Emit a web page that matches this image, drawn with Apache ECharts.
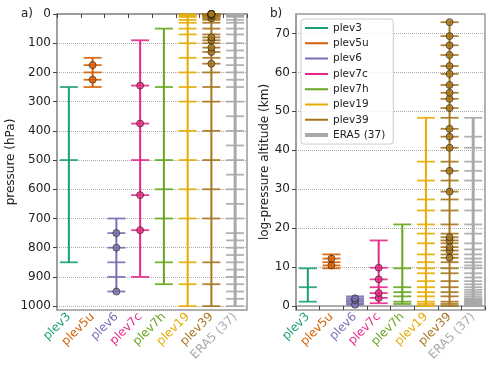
<!DOCTYPE html>
<html lang="en">
<head>
  <meta charset="UTF-8" />
  <title>pressure level sets</title>
  <script src="https://cdn.jsdelivr.net/npm/echarts@6/dist/echarts.min.js"></script>
  <style>
    html, body { margin: 0; padding: 0; background: #fff; }
    #chart { width: 491px; height: 369px; }
  </style>
</head>
<body>
  <div id="chart"></div>
<script type="text/javascript">
  // categories on the x axis
  var categories = ['plev3', 'plev5u', 'plev6', 'plev7c', 'plev7h', 'plev19', 'plev39', 'ERA5 (37)'];

  // pressure levels (hPa) of each set
  var plev3 = [850, 500, 250];
  var plev5u = [250, 225, 200, 175, 150];
  var plev6 = [950, 900, 850, 800, 750, 700];
  var plev7c = [900, 740, 620, 500, 375, 245, 90];
  var plev7h = [925, 850, 700, 600, 500, 250, 50];
  var plev19 = [1000, 925, 850, 700, 600, 500, 400, 300, 250, 200, 150, 100, 70, 50, 30, 20, 10, 5, 1];
  var plev39 = [1000, 925, 850, 700, 600, 500, 400, 300, 250, 200, 170, 150, 130, 115, 100, 90, 80, 70,
    50, 30, 20, 15, 10, 7, 5, 3, 2, 1.5, 1, 0.7, 0.5, 0.4, 0.3, 0.2, 0.15, 0.1, 0.07, 0.05, 0.03];
  var era5 = [1000, 975, 950, 925, 900, 875, 850, 825, 800, 775, 750, 700, 650, 600, 550, 500, 450, 400,
    350, 300, 250, 225, 200, 175, 150, 125, 100, 70, 50, 30, 20, 10, 7, 5, 3, 2, 1];

  // levels drawn with a circle (not part of plev19)
  var plev5uMarked = [225, 175];
  var plev6Marked = [950, 800, 750];
  var plev7cMarked = [740, 620, 375, 245];
  var plev39Marked = [170, 130, 115, 90, 80, 15, 7, 3, 2, 1.5, 0.7, 0.5, 0.4, 0.3, 0.2, 0.15, 0.1, 0.07, 0.05, 0.03];

  // log-pressure altitude (km) read for each pressure level (hPa)
  var levelHpa = [1000, 975, 950, 925, 900, 875, 850, 825, 800, 775, 750, 740, 700, 650, 620, 600, 550, 500,
    450, 400, 375, 350, 300, 250, 245, 225, 200, 175, 170, 150, 130, 125, 115, 100, 90, 80, 70, 50, 30, 20,
    15, 10, 7, 5, 3, 2, 1.5, 1, 0.7, 0.5, 0.4, 0.3, 0.2, 0.15, 0.1, 0.07, 0.05, 0.03];
  var levelKm = [0.00, 0.18, 0.36, 0.55, 0.74, 0.93, 1.14, 1.35, 1.56, 1.78, 2.01, 2.11, 2.50, 3.02, 3.35, 3.58, 4.18, 4.85,
    5.59, 6.41, 6.87, 7.35, 8.43, 9.70, 9.85, 10.44, 11.27, 12.20, 12.40, 13.28, 14.28, 14.56, 15.14, 16.12, 16.86, 17.68, 18.61, 20.97, 24.55, 27.38,
    29.40, 32.24, 34.73, 37.09, 40.66, 43.50, 45.52, 48.35, 50.85, 53.21, 54.77, 56.78, 59.62, 61.63, 64.47, 66.97, 69.32, 72.90];

  var levelSets = [plev3, plev5u, plev6, plev7c, plev7h, plev19, plev39, era5];
  var markedSets = [[], plev5uMarked, plev6Marked, plev7cMarked, [], [], plev39Marked, []];

  // styles
  var colors = ['#1b9e77', '#d95f02', '#7570b3', '#e7298a', '#66a61e', '#e6ab02', '#a6761d', '#a9a9a9'];
  var stemWidth = [2, 2, 2, 2, 2, 2, 2, 3];
  var font = 'DejaVu Sans';
  // legend icons: thin bar inside a 23x12 box (the zero-width edge only fixes the box)
  var thinIcon = 'path://M0,0L0,12Z M0,5H23V7H0Z';
  var thickIcon = 'path://M0,0L0,12Z M0,4H23V8H0Z';

  function toKm(p) {
    return levelKm[levelHpa.indexOf(p)];
  }

  var myChart = echarts.init(document.getElementById('chart'), null, { renderer: 'canvas' });

  function xAxisFor(gi) {
    return {
      type: 'category',
      gridIndex: gi,
      data: categories.map(function (c, i) {
        return { value: c, textStyle: { color: colors[i] } };
      }),
      axisLine: { lineStyle: { color: '#999', width: 1.5 } },
      axisTick: { show: true, length: 4, lineStyle: { color: '#444' } },
      axisLabel: { rotate: 45, fontSize: 12, fontFamily: font, margin: 5, interval: 0 },
      splitLine: { show: false }
    };
  }

  var yCommon = {
    axisLine: { show: true, lineStyle: { color: '#999', width: 1.5 } },
    axisTick: { show: true, length: 4, lineStyle: { color: '#444' } },
    axisLabel: {
      fontSize: 12, fontFamily: font, color: '#222', margin: 6, showMaxLabel: false,
      formatter: function (v) { return String(v); }
    },
    splitLine: { show: true, lineStyle: { type: 'dotted', color: '#aaa', width: 1 } },
    nameLocation: 'middle',
    nameTextStyle: { fontSize: 12, fontFamily: font, color: '#222' }
  };

  var series = [];
  levelSets.forEach(function (levels, k) {
    [0, 1].forEach(function (gi) {
      var vals = gi === 0 ? levels : levels.map(toKm);
      var marked = gi === 0 ? markedSets[k] : markedSets[k].map(toKm);
      var lo = Math.min.apply(null, vals), hi = Math.max.apply(null, vals);
      series.push({
        type: 'line',
        name: gi === 1 ? categories[k] : undefined,
        xAxisIndex: gi, yAxisIndex: gi,
        data: [[k, lo], [k, hi]],
        symbol: 'none',
        lineStyle: { color: colors[k], width: stemWidth[k] },
        itemStyle: { color: colors[k] },
        silent: true, z: 2
      });
      series.push({
        type: 'scatter',
        xAxisIndex: gi, yAxisIndex: gi,
        data: vals.map(function (v) { return [k, v]; }),
        symbol: 'rect',
        symbolSize: [18, 1.8],
        itemStyle: { color: colors[k], opacity: 0.9 },
        silent: true, z: 3
      });
      if (marked.length) {
        series.push({
          type: 'scatter',
          xAxisIndex: gi, yAxisIndex: gi,
          data: marked.map(function (v) { return [k, v]; }),
          symbol: 'circle',
          symbolSize: 7,
          itemStyle: { color: colors[k], borderColor: '#2b2010', borderWidth: 0.8 },
          silent: true, z: 4
        });
      }
    });
  });

  var option = {
    animation: false,
    textStyle: { fontFamily: font },
    title: [
      { text: 'a)', left: 16, top: 3, textStyle: { fontSize: 12, fontWeight: 'normal', fontFamily: font, color: '#222' } },
      { text: 'b)', left: 265, top: 3, textStyle: { fontSize: 12, fontWeight: 'normal', fontFamily: font, color: '#222' } }
    ],
    grid: [
      { left: 57, top: 14, width: 190, height: 296, show: true, borderColor: '#999', borderWidth: 1.5, backgroundColor: 'transparent' },
      { left: 296, top: 14, width: 189, height: 296, show: true, borderColor: '#999', borderWidth: 1.5, backgroundColor: 'transparent' }
    ],
    legend: {
      data: categories.map(function (c, i) {
        return { name: c, icon: i === 7 ? thickIcon : thinIcon, itemStyle: { color: colors[i] } };
      }),
      orient: 'vertical',
      left: 301, top: 19,
      itemWidth: 23, itemHeight: 12, itemGap: 3.3,
      padding: [3, 8, 3, 4],
      textStyle: { fontSize: 10.5, fontFamily: font, color: '#222' },
      backgroundColor: 'rgba(255,255,255,0.85)',
      borderColor: '#ccc', borderWidth: 1, borderRadius: 3,
      selectedMode: false, z: 10
    },
    xAxis: [xAxisFor(0), xAxisFor(1)],
    yAxis: [
      Object.assign({}, yCommon, {
        type: 'value', gridIndex: 0, inverse: true, min: 0, max: 1013.25, interval: 100,
        name: 'pressure (hPa)', nameGap: 36
      }),
      Object.assign({}, yCommon, {
        type: 'value', gridIndex: 1, min: -1, max: 75, splitNumber: 8,
        axisLabel: Object.assign({}, yCommon.axisLabel, { showMinLabel: false }),
        name: 'log-pressure altitude (km)', nameGap: 22
      })
    ],
    series: series
  };

  myChart.setOption(option);
</script>
</body>
</html>
